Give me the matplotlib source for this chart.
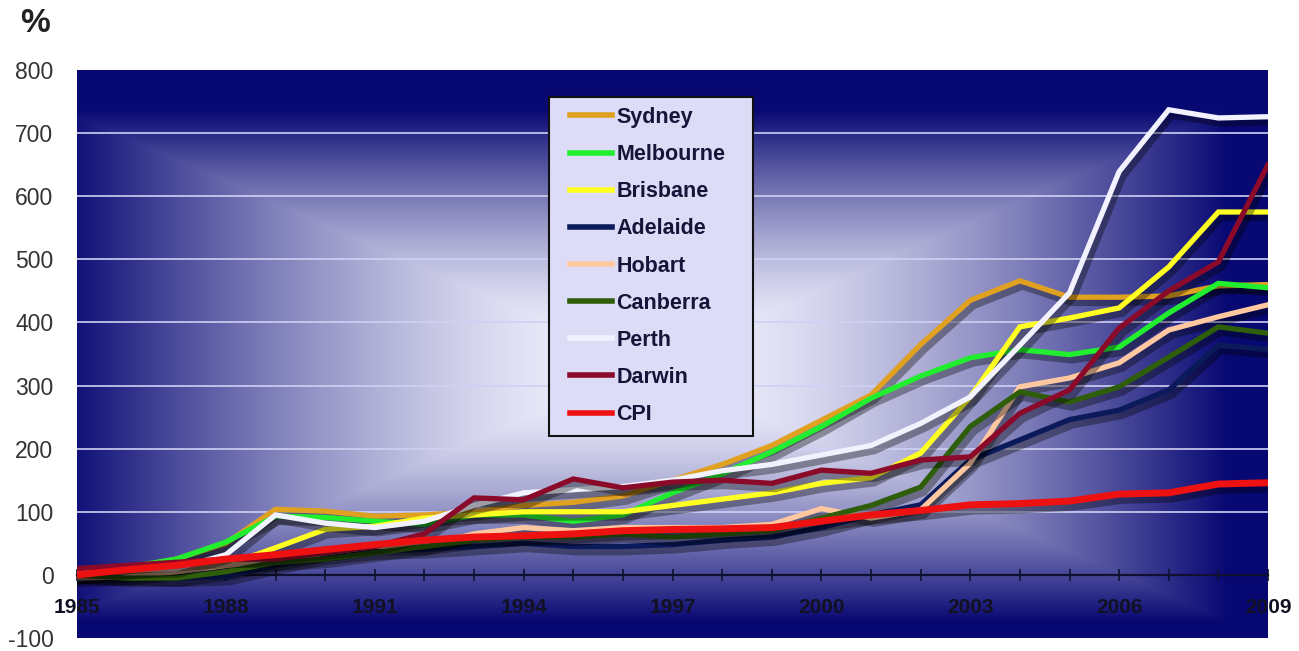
import numpy as np
import matplotlib
matplotlib.use("Agg")
import matplotlib.pyplot as plt
import matplotlib.patheffects as pe
from matplotlib.patches import Rectangle

plt.rcParams['font.family'] = ['Liberation Sans', 'DejaVu Sans']
plt.rcParams['axes.unicode_minus'] = False

years = list(range(1985, 2010))

sydney    = [5, 10, 25, 50, 104, 101, 93, 95, 100, 110, 115, 125, 150, 175, 205, 245, 285, 365, 435, 466, 440, 440, 442, 458, 460]
melbourne = [5, 12, 25, 52, 93, 91, 85, 80, 95, 95, 85, 95, 130, 160, 195, 235, 280, 315, 344, 357, 349, 361, 415, 462, 455]
brisbane  = [0, 2, 5, 15, 43, 72, 77, 90, 95, 100, 100, 100, 110, 120, 130, 145, 154, 193, 282, 393, 407, 423, 488, 575, 575]
adelaide  = [0, -2, -5, -3, 15, 30, 38, 40, 45, 50, 45, 45, 48, 55, 60, 75, 95, 111, 182, 214, 246, 261, 293, 364, 357]
hobart    = [-5, -3, 5, 15, 20, 35, 45, 45, 65, 75, 70, 75, 75, 75, 80, 105, 90, 103, 177, 298, 312, 336, 388, 409, 428]
canberra  = [0, -5, -5, 5, 20, 25, 35, 45, 55, 60, 60, 65, 60, 65, 70, 90, 110, 139, 235, 290, 274, 298, 345, 393, 383]
perth     = [5, 8, 10, 32, 95, 82, 75, 85, 110, 130, 135, 140, 150, 165, 175, 190, 205, 240, 282, 364, 447, 639, 737, 724, 726]
darwin    = [10, 15, 20, 25, 25, 35, 45, 65, 122, 119, 152, 138, 147, 150, 145, 166, 161, 182, 187, 256, 293, 391, 450, 496, 650]
cpi       = [0, 8, 15, 25, 32, 40, 48, 55, 60, 62, 65, 70, 72, 73, 75, 85, 95, 102, 111, 113, 117, 128, 130, 144, 146]

names = ["Sydney", "Melbourne", "Brisbane", "Adelaide", "Hobart", "Canberra", "Perth", "Darwin", "CPI"]
series = [sydney, melbourne, brisbane, adelaide, hobart, canberra, perth, darwin, cpi]
colors = ["#E0A020", "#22EE30", "#FFFF22", "#0A1A5A", "#FFC8A0", "#2E5E0A", "#F2F2FF", "#8B0A2A", "#EE1111"]
widths = [3.8, 3.8, 3.8, 3.8, 3.8, 3.8, 3.8, 3.8, 5.0]

xtick_years = [1985, 1988, 1991, 1994, 1997, 2000, 2003, 2006, 2009]
ytick_vals = list(range(-100, 801, 100))

W, H = 1299, 651
fig = plt.figure(figsize=(W / 100, H / 100), dpi=100)
L, R, T, B = 77, 1268, 70, 638
ax = fig.add_axes([L / W, (H - B) / H, (R - L) / W, (B - T) / H])

# rectangular "from centre" gradient background
nx, ny = 1191, 568
px = np.arange(nx) + L
py = np.arange(ny) + T
PX, PY = np.meshgrid(px, py)
cx, cy = 645, 365
U = (PX - cx) / 595.0
V = (PY - cy) / 284.0
s = np.maximum(np.abs(U) * 0.92, np.abs(V))
t = np.clip((s - 0.12) / 0.78, 0, 1)
f = t ** 1.4
light = np.array([234, 234, 250]) / 255.0
navy = np.array([8, 8, 115]) / 255.0
img = light[None, None, :] * (1 - f[..., None]) + navy[None, None, :] * f[..., None]
ax.imshow(img, extent=[0, 1, 0, 1], transform=ax.transAxes, aspect='auto', zorder=0,
          interpolation='bilinear', origin='upper')

ax.set_xlim(1985, 2009)
ax.set_ylim(-100, 800)

for yv in range(100, 800, 100):
    ax.axhline(yv, color="#D0D0F4", lw=1.2, zorder=1)

for name, data, c, lw in zip(names, series, colors, widths):
    ax.plot(years, data, color=c, lw=lw, label=name, zorder=3, solid_joinstyle='miter',
            path_effects=[pe.SimpleLineShadow(offset=(2, -3), shadow_color='black', alpha=0.35, linewidth=lw + 3),
                          pe.Normal()])

for sp in ['top', 'right', 'left']:
    ax.spines[sp].set_visible(False)
ax.spines['bottom'].set_position(('data', 0))
ax.spines['bottom'].set_color('#101030')
ax.spines['bottom'].set_linewidth(1.6)
ax.spines['bottom'].set_zorder(2)

ax.set_xticks(xtick_years)
ax.set_xticklabels([str(y) for y in xtick_years])
ax.set_xticks(years, minor=True)
ax.tick_params(axis='x', which='both', direction='inout', length=9, width=1.2, color='#101030', pad=12)
ax.tick_params(axis='x', which='major', labelsize=15, labelcolor='#111122')
for lab in ax.get_xticklabels():
    lab.set_fontweight('bold')

ax.set_yticks(ytick_vals)
ax.tick_params(axis='y', length=0, pad=17, labelsize=16.5, labelcolor='#333333')

fig.text(20 / W, 1 - 23 / H, "%", fontsize=24, fontweight='bold', color='#222222', va='center', ha='left')

# legend frame drawn separately for exact padding
bx0, bx1, by0, by1 = 549, 753, 97, 436
frame = Rectangle(((bx0 - L) / (R - L), (B - by1) / (B - T)), (bx1 - bx0) / (R - L), (by1 - by0) / (B - T),
                  transform=ax.transAxes, facecolor='#DCDCF6', edgecolor='#111111', lw=1.5, zorder=4)
ax.add_patch(frame)

leg = ax.legend(loc='upper left', bbox_to_anchor=((570 - L) / (R - L), (B - 107) / (B - T)),
                prop={'weight': 'bold', 'size': 15.5}, frameon=False,
                handlelength=1.95, handletextpad=0.2, labelspacing=0.75, borderpad=0,
                borderaxespad=0)
for tx in leg.get_texts():
    tx.set_color('#15153A')
for h in leg.get_lines():
    h.set_path_effects([])
    h.set_linewidth(4)
leg.set_zorder(5)

fig.savefig("out.png", dpi=100)
